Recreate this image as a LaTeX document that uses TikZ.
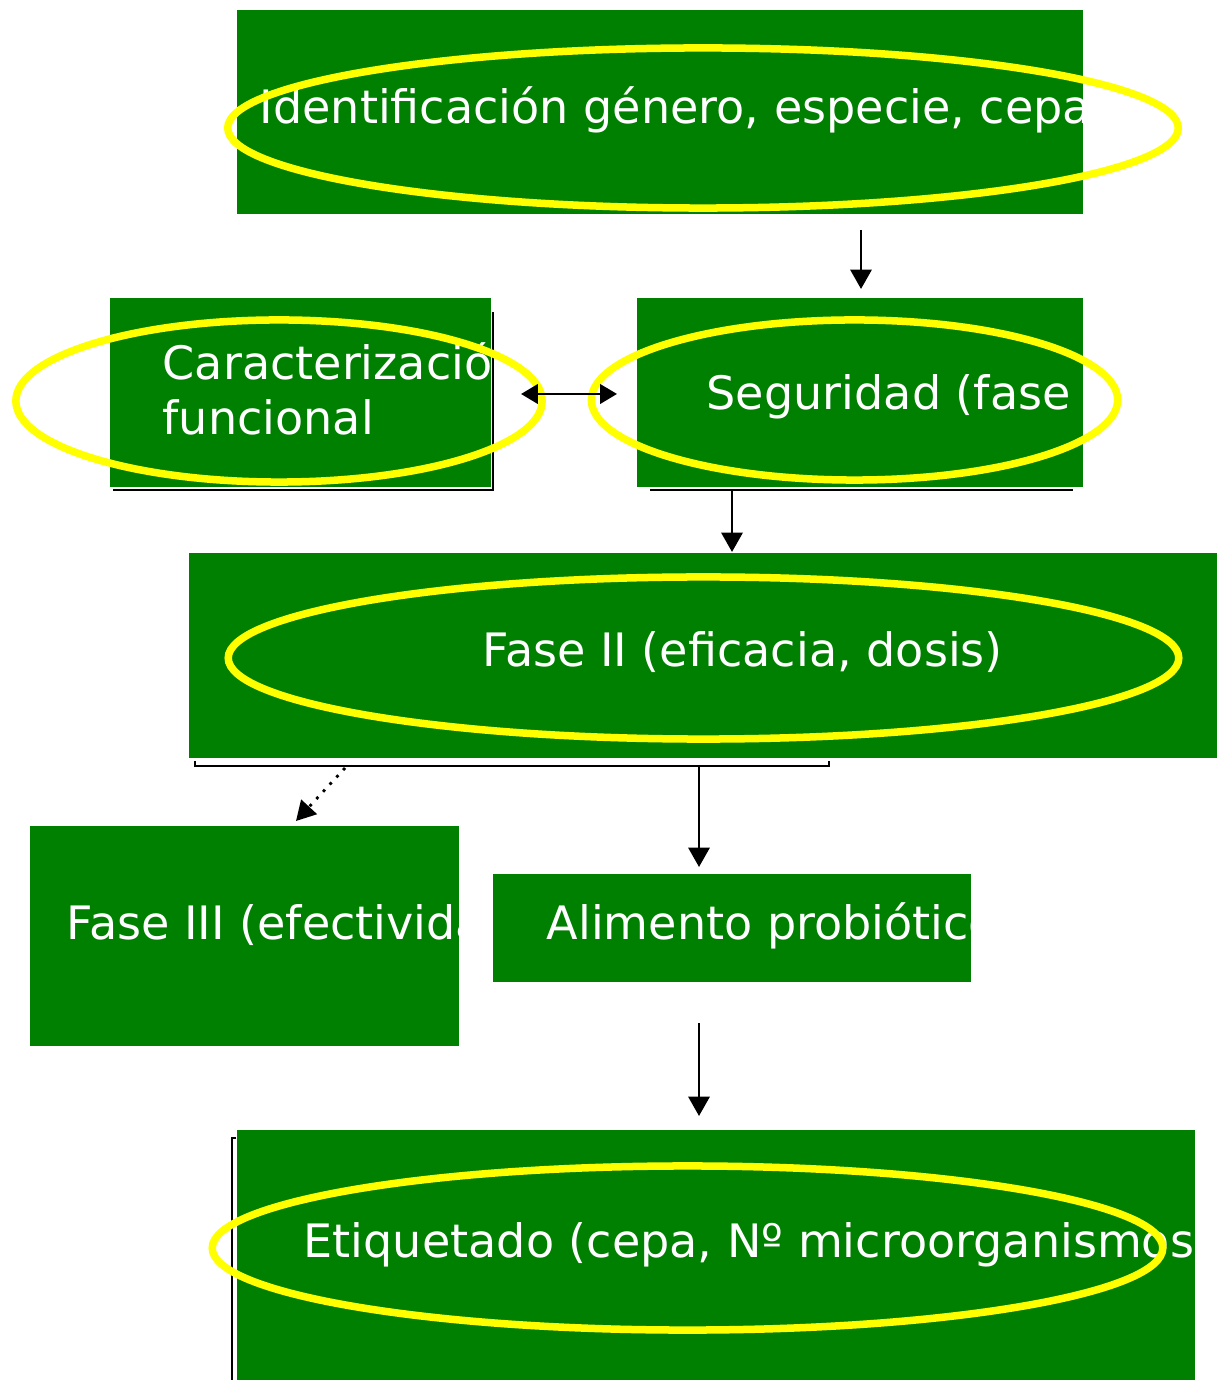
\documentclass[tikz,border=0pt]{standalone}
\usepackage{fontspec}
\setmainfont{DejaVu Sans}
\usetikzlibrary{arrows.meta}
\definecolor{boxgreen}{RGB}{0,128,0}
\definecolor{ringyellow}{RGB}{255,255,0}
\tikzset{every node/.style={align=left}}
\tikzset{box/.style={fill=boxgreen, draw=none, inner sep=0pt}}
\tikzset{txt/.style={text=white, inner sep=0pt, anchor=base west, font=\fontsize{13.1}{15.9}\selectfont}}
\tikzset{ring/.style={draw=ringyellow, line width=0.075cm}}
\tikzset{line/.style={line width=0.8pt, black}}
\tikzset{arrow/.style={line, -{Triangle[width=6pt, length=5.5pt]}}}
\tikzset{arrows2/.style={line, {Triangle[width=5.5pt, length=4.8pt]}-{Triangle[width=5.5pt, length=4.8pt]}}}

\begin{document}
\begin{tikzpicture}[x=0.01cm, y=-0.01cm]
	
	% Frame
	\useasboundingbox (0,0) rectangle (1217,1380);
	
	% Boxes
	\node[box, minimum width=8.46cm, minimum height=2.04cm] (ident) at (660,112) {};
	\node[box, minimum width=3.81cm, minimum height=1.89cm] (carac) at (300.5,392.5) {};
	\node[box, minimum width=4.46cm, minimum height=1.89cm] (segur) at (860,392.5) {};
	\node[box, minimum width=10.28cm, minimum height=2.05cm] (fase2) at (703,655.5) {};
	\node[box, minimum width=4.29cm, minimum height=2.20cm] (fase3) at (244.5,936) {};
	\node[box, minimum width=4.78cm, minimum height=1.08cm] (alim) at (732,928) {};
	\node[box, minimum width=9.58cm, minimum height=2.50cm] (etiq) at (716,1255) {};
	
	% Edge lines
	\draw[line] (493,312) |- (113,490);
	\draw[line] (650,490) -- (1073,490);
	\draw[line] (236,1138) -| (232,1380);
	\draw[line] (195,761) |- (829,766) -- (829,761);
	
	% Texts (cut at the box edge)
	\begin{scope}
		\clip (ident.south west) rectangle (ident.north east);
		\node[txt] (ident-t) at (259,124) {Identificación género, especie, cepa};
	\end{scope}
	\begin{scope}
		\clip (carac.south west) rectangle (carac.north east);
		\node[txt] (carac-t) at (162,435) {Caracterización\\funcional};
	\end{scope}
	\begin{scope}
		\clip (segur.south west) rectangle (segur.north east);
		\node[txt] (segur-t) at (706,410) {Seguridad (fase I)};
	\end{scope}
	\begin{scope}
		\clip (fase2.south west) rectangle (fase2.north east);
		\node[txt] (fase2-t) at (482,667) {Fase II (eficacia, dosis)};
	\end{scope}
	\begin{scope}
		\clip (fase3.south west) rectangle (fase3.north east);
		\node[txt] (fase3-t) at (66,939) {Fase III (efectividad)};
	\end{scope}
	\begin{scope}
		\clip (alim.south west) rectangle (alim.north east);
		\node[txt] (alim-t) at (546,939) {Alimento probiótico};
	\end{scope}
	\begin{scope}
		\clip (etiq.south west) rectangle (etiq.north east);
		\node[txt] (etiq-t) at (303,1257) {Etiquetado (cepa, Nº microorganismos)};
	\end{scope}
	
	% Rings
	\draw[ring] (703,128) ellipse [x radius=4.75cm, y radius=0.80cm];
	\draw[ring] (279,401) ellipse [x radius=2.63cm, y radius=0.81cm];
	\draw[ring] (854.5,400) ellipse [x radius=2.63cm, y radius=0.80cm];
	\draw[ring] (703.5,658) ellipse [x radius=4.75cm, y radius=0.81cm];
	\draw[ring] (687.5,1248) ellipse [x radius=4.75cm, y radius=0.82cm];
	
	% Coordinates
	\coordinate (i-out) at (861,230);
	\coordinate (s-in) at (861,289);
	\coordinate (c-end) at (521,394);
	\coordinate (s-end) at (617,394);
	\coordinate (s-out) at (732,490);
	\coordinate (f2-in) at (732,552);
	\coordinate (br-l) at (345,768);
	\coordinate (f3-in) at (296,821);
	\coordinate (br-r) at (699,766);
	\coordinate (a-in) at (699,867);
	\coordinate (a-out) at (699,1023);
	\coordinate (e-in) at (699,1116);
	
	% Arrows
	\draw[arrow] (i-out) -- (s-in);
	\draw[arrows2] (c-end) -- (s-end);
	\draw[arrow] (s-out) -- (f2-in);
	\draw[arrow, dotted] (br-l) -- (f3-in);
	\draw[arrow] (br-r) -- (a-in);
	\draw[arrow] (a-out) -- (e-in);
	
\end{tikzpicture}
\end{document}
